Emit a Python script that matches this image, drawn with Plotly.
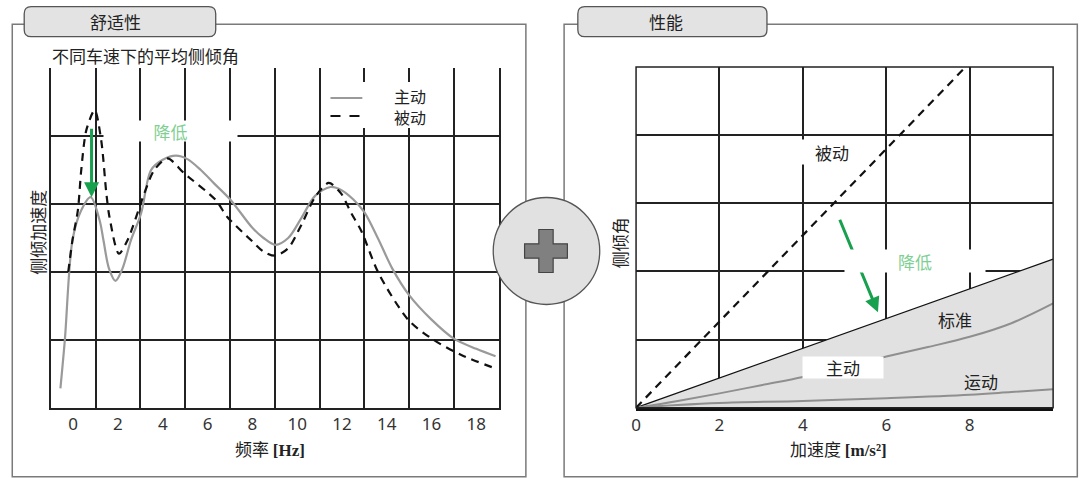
import plotly.graph_objects as go

W, H = 1080, 478

def px(x):
    return x / W

def py(y):
    return 1 - y / H

# ---------------- data: left chart (frequency response) ----------------
freq_active = [-0.57, -0.37, -0.03, 0.35, 0.78, 1.18, 1.35, 1.6, 1.89, 2.2, 2.58, 3.03, 3.48, 4.0,
               4.59, 5.1, 5.7, 6.3, 7.03, 8.0, 8.5, 9.03, 9.6, 10.2, 10.8, 11.49, 12.0, 12.5,
               13.0, 13.6, 14.25, 15.0, 16.0, 17.0, 18.0, 18.86]
acc_active = [0.29, 1.01, 2.47, 2.9, 3.1, 2.76, 2.47, 2.05, 1.87, 2.05, 2.47, 2.86, 3.5, 3.65,
              3.71, 3.66, 3.5, 3.3, 3.06, 2.65, 2.5, 2.40, 2.5, 2.8, 3.12, 3.25, 3.2, 3.07,
              2.88, 2.5, 2.05, 1.66, 1.3, 1.02, 0.87, 0.76]

freq_passive = [-0.22, -0.03, 0.21, 0.36, 0.59, 0.96, 1.25, 1.48, 1.62, 2.04, 2.43, 3.18, 3.62,
                4.21, 4.96, 6.36, 6.88, 8.0, 8.5, 9.03, 9.6, 10.2, 10.8, 11.41, 11.95, 12.41,
                12.87, 13.64, 14.98, 16.1, 17.33, 18.86]
acc_passive = [2.0, 2.47, 2.91, 3.5, 4.09, 4.38, 3.94, 3.16, 2.81, 2.27, 2.47, 3.16, 3.5,
               3.67, 3.45, 3.06, 2.81, 2.45, 2.3, 2.24, 2.35, 2.7, 3.1, 3.31, 3.16, 2.87,
               2.6, 1.98, 1.29, 1.0, 0.78, 0.58]

freq_ticks = [0, 2, 4, 6, 8, 10, 12, 14, 16, 18]
freq_grid = [-1, 1, 3, 5, 7, 9, 11, 13, 15, 17, 19]

# ---------------- data: right chart (roll angle vs acceleration) ----------------
accel_passive = [0, 7.9]
roll_passive = [0, 5.0]

accel_standard = [0, 10]
roll_standard = [0, 2.18]

accel_active = [0, 1, 2, 3, 4, 5, 6, 7, 8, 9, 10]
roll_active = [0, 0.1, 0.21, 0.33, 0.45, 0.6, 0.75, 0.89, 1.04, 1.24, 1.53]

accel_sport = [0, 1, 2, 4, 6, 8, 9, 10]
roll_sport = [0, 0.04, 0.07, 0.10, 0.14, 0.19, 0.23, 0.27]

accel_ticks = [0, 2, 4, 6, 8]

GREEN = "#17a04e"
LIGHT_GREEN = "#7fcf93"
CJK = "Noto Sans CJK SC"
GRID = "#222222"

fig = go.Figure()

# left traces
fig.add_trace(go.Scatter(x=freq_active, y=acc_active, mode="lines", name="主动",
                         line=dict(color="#9a9a9a", width=2.2, shape="spline", smoothing=0.9),
                         xaxis="x", yaxis="y", showlegend=False, hoverinfo="skip"))
fig.add_trace(go.Scatter(x=freq_passive, y=acc_passive, mode="lines", name="被动",
                         line=dict(color="#111111", width=2.2, dash="8px,6px", shape="spline", smoothing=0.8),
                         xaxis="x", yaxis="y", showlegend=False, hoverinfo="skip"))

# right traces
fig.add_trace(go.Scatter(x=accel_standard, y=roll_standard, mode="lines", name="标准",
                         line=dict(color="#111111", width=1.3), fill="tozeroy", fillcolor="#e1e1e1",
                         xaxis="x2", yaxis="y2", showlegend=False, hoverinfo="skip"))
fig.add_trace(go.Scatter(x=accel_active, y=roll_active, mode="lines", name="主动",
                         line=dict(color="#8f8f8f", width=2, shape="spline"),
                         xaxis="x2", yaxis="y2", showlegend=False, hoverinfo="skip"))
fig.add_trace(go.Scatter(x=accel_sport, y=roll_sport, mode="lines", name="运动",
                         line=dict(color="#8f8f8f", width=2, shape="spline"),
                         xaxis="x2", yaxis="y2", showlegend=False, hoverinfo="skip"))
fig.add_trace(go.Scatter(x=accel_passive, y=roll_passive, mode="lines", name="被动",
                         line=dict(color="#111111", width=2.2, dash="8px,6px"),
                         xaxis="x2", yaxis="y2", showlegend=False, hoverinfo="skip"))

tickfont = dict(family="Noto Sans, DejaVu Sans", size=17, color="#333333")

fig.update_layout(
    width=W, height=H, autosize=False,
    margin=dict(l=0, r=0, t=0, b=0),
    paper_bgcolor="white", plot_bgcolor="white",
    showlegend=False,
    xaxis=dict(domain=[px(46), px(496)], range=[-1, 19], tickmode="array", tickvals=freq_ticks,
               ticktext=[str(v) for v in freq_ticks], showgrid=False, zeroline=False,
               showline=True, linecolor=GRID, linewidth=2, ticks="", tickfont=tickfont,
               minor=dict(tickmode="array", tickvals=freq_grid, showgrid=True, gridcolor=GRID,
                          gridwidth=1.5, ticks=""),
               fixedrange=True),
    yaxis=dict(domain=[py(408), py(68)], range=[0, 5], tickmode="array", tickvals=[1, 2, 3, 4],
               showticklabels=False, showgrid=True, gridcolor=GRID, gridwidth=1.5, zeroline=False,
               showline=True, mirror=True, linecolor=GRID, linewidth=1.5, ticks="", fixedrange=True),
    xaxis2=dict(domain=[px(634), px(1053)], range=[0, 10], tickmode="array", tickvals=accel_ticks,
                ticktext=[str(v) for v in accel_ticks], showgrid=True, gridcolor=GRID, gridwidth=1.5,
                zeroline=False, showline=True, linecolor="#111111", linewidth=3, ticks="",
                tickfont=tickfont, anchor="y2", fixedrange=True),
    yaxis2=dict(domain=[py(407.7), py(67)], range=[0, 5], tickmode="array", tickvals=[1, 2, 3, 4],
                showticklabels=False, showgrid=True, gridcolor=GRID, gridwidth=1.5, zeroline=False,
                showline=False, ticks="", anchor="x2", fixedrange=True),
)

shapes = []
# panel frames
for x0, x1 in [(7.3, 523.3), (561.7, 1077.3)]:
    shapes.append(dict(type="rect", xref="paper", yref="paper", x0=px(x0), x1=px(x1),
                       y0=py(476.7), y1=py(24.3), line=dict(color="#7a7a7a", width=1.5),
                       fillcolor="rgba(0,0,0,0)", layer="below"))

# right chart border box
shapes.append(dict(type="rect", xref="x2 domain", yref="y2 domain", x0=0, x1=1, y0=0, y1=1,
                   line=dict(color=GRID, width=1.5), fillcolor="rgba(0,0,0,0)", layer="above"))


def rounded_rect(x0, y0, x1, y1, r):
    X = px
    Y = py
    return (f"M {X(x0 + r)},{Y(y0)} L {X(x1 - r)},{Y(y0)} "
            f"Q {X(x1)},{Y(y0)} {X(x1)},{Y(y0 + r)} L {X(x1)},{Y(y1 - r)} "
            f"Q {X(x1)},{Y(y1)} {X(x1 - r)},{Y(y1)} L {X(x0 + r)},{Y(y1)} "
            f"Q {X(x0)},{Y(y1)} {X(x0)},{Y(y1 - r)} L {X(x0)},{Y(y0 + r)} "
            f"Q {X(x0)},{Y(y0)} {X(x0 + r)},{Y(y0)} Z")


# tabs
for x0, x1 in [(19.3, 211.7), (575.5, 765.5)]:
    shapes.append(dict(type="path", xref="paper", yref="paper", path=rounded_rect(x0, 6.7, x1, 36.7, 7),
                       fillcolor="#e3e3e3", line=dict(color="#555555", width=1.3), layer="above"))

# central circle with plus
shapes.append(dict(type="circle", xref="paper", yref="paper", x0=px(490.5), x1=px(597.5),
                   y0=py(304.5), y1=py(197.5), fillcolor="#e1e1e1",
                   line=dict(color="#555555", width=1.3), layer="above"))
cx, cy = 543.5, 251.0
a, b = 21.5, 7.2
plus = [(cx - b, cy - a), (cx + b, cy - a), (cx + b, cy - b), (cx + a, cy - b), (cx + a, cy + b),
        (cx + b, cy + b), (cx + b, cy + a), (cx - b, cy + a), (cx - b, cy + b), (cx - a, cy + b),
        (cx - a, cy - b), (cx - b, cy - b)]
plus_path = "M " + " L ".join(f"{px(x)},{py(y)}" for x, y in plus) + " Z"
shapes.append(dict(type="path", xref="paper", yref="paper", path=plus_path, fillcolor="#808080",
                   line=dict(color="#444444", width=1.2), layer="above"))

# left manual legend
shapes.append(dict(type="rect", xref="paper", yref="paper", x0=px(322), x1=px(446), y0=py(128),
                   y1=py(82), fillcolor="white", line=dict(width=0), layer="above"))
shapes.append(dict(type="line", xref="paper", yref="paper", x0=px(327), x1=px(359), y0=py(98),
                   y1=py(98), line=dict(color="#9a9a9a", width=2.2), layer="above"))
shapes.append(dict(type="line", xref="paper", yref="paper", x0=px(327), x1=px(359), y0=py(116),
                   y1=py(116), line=dict(color="#111111", width=2.2, dash="10px,9px"), layer="above"))

fig.update_layout(shapes=shapes)

ann = []
txt = dict(family=CJK, size=17, color="#222222")

def A(text, x, y, xref="paper", yref="paper", **kw):
    d = dict(text=text, x=x, y=y, xref=xref, yref=yref, showarrow=False, font=kw.pop("font", txt),
             xanchor=kw.pop("xanchor", "center"), yanchor=kw.pop("yanchor", "middle"))
    d.update(kw)
    ann.append(d)

# tab titles
A("舒适性", px(111.5), py(22))
A("性能", px(664), py(22))
# left title
A("不同车速下的平均侧倾角", px(45), py(55), xanchor="left")
# legend text (one block, two lines)
A("主动<br>被动", px(389), py(106.5), xanchor="left", align="left",
  font=dict(family=CJK, size=16, color="#222222"))
# axis titles
A("侧倾加速度", px(33), py(232), textangle=-90)
A("侧倾角", px(617), py(243), textangle=-90)
A("频率 <span style='font-family:Liberation Serif'><b>[Hz]</b></span>", px(266), py(448))
A("加速度 <span style='font-family:Liberation Serif'><b>[m/s²]</b></span>", px(837), py(448))

# arrows
ann.append(dict(x=0.82, y=3.10, ax=0.82, ay=4.13, xref="x", yref="y", axref="x", ayref="y",
                showarrow=True, arrowhead=2, arrowsize=1, arrowwidth=3, arrowcolor=GREEN, text=""))
ann.append(dict(x=5.80, y=1.40, ax=4.87, ay=2.78, xref="x2", yref="y2", axref="x2", ayref="y2",
                showarrow=True, arrowhead=2, arrowsize=1, arrowwidth=3, arrowcolor=GREEN, text=""))

# labelled boxes
A("降低", 4.35, 4.08, xref="x", yref="y", bgcolor="white", width=133, height=20, borderpad=0,
  font=dict(family=CJK, size=17, color=LIGHT_GREEN))
A("被动", 4.70, 3.75, xref="x2", yref="y2", bgcolor="white", width=66, height=24, borderpad=0)
A("降低", 6.70, 2.15, xref="x2", yref="y2", bgcolor="white", width=140, height=22, borderpad=0,
  font=dict(family=CJK, size=17, color=LIGHT_GREEN))
A("主动", 4.96, 0.59, xref="x2", yref="y2", bgcolor="white", width=80, height=21, borderpad=0)
A("标准", 7.65, 1.29, xref="x2", yref="y2")
A("运动", 8.27, 0.39, xref="x2", yref="y2")

fig.update_layout(annotations=ann)

fig.write_html("out.html", config={"displayModeBar": False},
               post_script="document.body.style.margin='0';")
